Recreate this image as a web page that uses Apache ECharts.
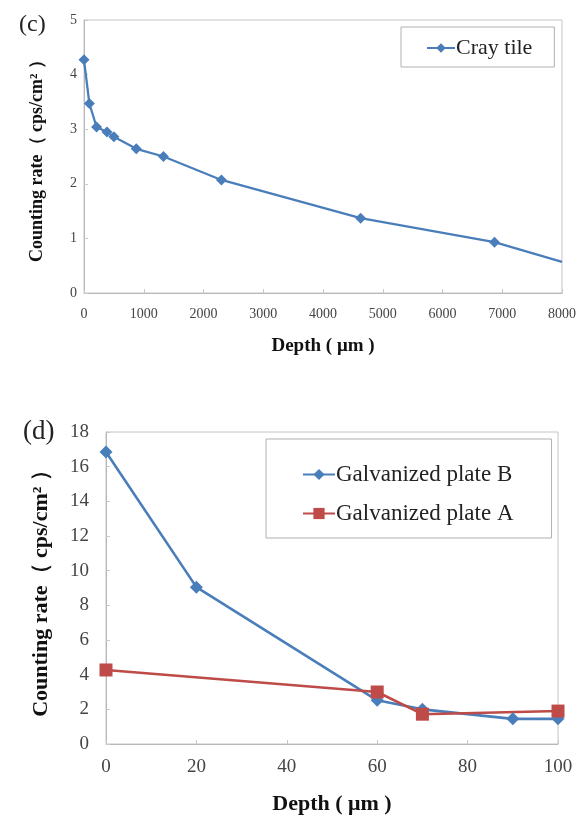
<!DOCTYPE html>
<html>
<head>
<meta charset="utf-8">
<script src="https://cdn.jsdelivr.net/npm/echarts@6/dist/echarts.min.js"></script>
<style>html,body{margin:0;padding:0;background:#fff}#c{width:581px;height:816px}</style>
</head>
<body>
<div id="c"></div>
<script>
// Panel (c): Cray tile
const crayDepth = [0, 90, 210, 385, 500, 875, 1330, 2300, 4630, 6870, 8000];
const crayRate  = [4.27, 3.47, 3.04, 2.95, 2.86, 2.64, 2.50, 2.07, 1.37, 0.93, 0.57];
// Panel (d): Galvanized plates
const plateBDepth = [0, 20, 60, 70, 90, 100];
const plateBRate  = [16.85, 9.05, 2.52, 2.0, 1.45, 1.45];
const plateADepth = [0, 60, 70, 100];
const plateARate  = [4.27, 3.0, 1.72, 1.9];
const seriesNames = ['Cray tile', 'Galvanized plate B', 'Galvanized plate A'];
const panelLabels = ['(c)', '(d)'];
const xName = 'Depth ( μm )';
const yName = 'Counting rate（ cps/cm² ）';

const BLUE = '#4a7ebb', RED = '#be4b48';
const serif = '"Liberation Serif", "DejaVu Serif", serif';

function pairs(xs, ys) { return xs.map((x, i) => [x, ys[i]]); }

const crayData = pairs(crayDepth, crayRate).map((p, i, arr) =>
  i === arr.length - 1 ? { value: p, symbol: 'none' } : p);

const chart = echarts.init(document.getElementById('c'));
const axisCommon = (fs, nfs, margin) => ({
  axisLine: { show: true, lineStyle: { color: '#b8b8b8', width: 1 } },
  axisTick: { show: true, inside: true, length: 4, lineStyle: { color: '#c8c8c8' } },
  splitLine: { show: false },
  axisLabel: { color: '#444', fontFamily: serif, fontSize: fs, margin: margin, formatter: (v) => String(v) },
  nameTextStyle: { color: '#111', fontFamily: serif, fontWeight: 'bold', fontSize: nfs }
});

chart.setOption({
  animation: false,
  backgroundColor: '#fff',
  title: [
    { text: panelLabels[0], left: 14, top: 8, textStyle: { fontFamily: serif, fontSize: 24, fontWeight: 'normal', color: '#222' } },
    { text: panelLabels[1], left: 18, top: 413, textStyle: { fontFamily: serif, fontSize: 27, fontWeight: 'normal', color: '#222' } }
  ],
  grid: [
    { left: 84, top: 20, width: 478, height: 273, show: true, borderColor: '#c4c4c4', borderWidth: 1 },
    { left: 106, top: 432, width: 452, height: 312, show: true, borderColor: '#c4c4c4', borderWidth: 1 }
  ],
  legend: [
    { data: [seriesNames[0]], left: 401, top: 27, orient: 'vertical',
      padding: [10, 22, 8, 25], itemWidth: 28, itemHeight: 12, itemGap: 0,
      borderColor: '#b0b0b0', borderWidth: 1,
      textStyle: { fontFamily: serif, fontSize: 22, color: '#222', padding: [0, 0, 0, -4] } },
    { data: [seriesNames[1], seriesNames[2]], left: 266, top: 439, orient: 'vertical',
      padding: [24, 38, 13, 36], itemGap: 16, itemWidth: 32, itemHeight: 14,
      borderColor: '#b0b0b0', borderWidth: 1,
      textStyle: { fontFamily: serif, fontSize: 23, color: '#222', padding: [0, 0, 0, -4] } }
  ],
  xAxis: [
    Object.assign(axisCommon(14, 19, 14), { type: 'value', gridIndex: 0, min: 0, max: 8000, interval: 1000,
      name: xName, nameLocation: 'middle', nameGap: 44 }),
    Object.assign(axisCommon(19, 22, 14), { type: 'value', gridIndex: 1, min: 0, max: 100, interval: 20,
      name: xName, nameLocation: 'middle', nameGap: 49 })
  ],
  yAxis: [
    Object.assign(axisCommon(14, 18, 7), { type: 'value', gridIndex: 0, min: 0, max: 5, interval: 1,
      name: yName, nameLocation: 'middle', nameGap: 38 }),
    Object.assign(axisCommon(19, 22, 17), { type: 'value', gridIndex: 1, min: 0, max: 18, interval: 2,
      name: yName, nameLocation: 'middle', nameGap: 54 })
  ],
  series: [
    { name: seriesNames[0], type: 'line', xAxisIndex: 0, yAxisIndex: 0, data: crayData,
      symbol: 'diamond', symbolSize: 11, lineStyle: { color: BLUE, width: 2.3 },
      itemStyle: { color: BLUE } },
    { name: seriesNames[1], type: 'line', xAxisIndex: 1, yAxisIndex: 1, data: pairs(plateBDepth, plateBRate),
      symbol: 'diamond', symbolSize: 13, lineStyle: { color: BLUE, width: 2.6 },
      itemStyle: { color: BLUE } },
    { name: seriesNames[2], type: 'line', xAxisIndex: 1, yAxisIndex: 1, data: pairs(plateADepth, plateARate),
      symbol: 'rect', symbolSize: 13, lineStyle: { color: RED, width: 2.6 },
      itemStyle: { color: RED } }
  ]
});
</script>
</body>
</html>
